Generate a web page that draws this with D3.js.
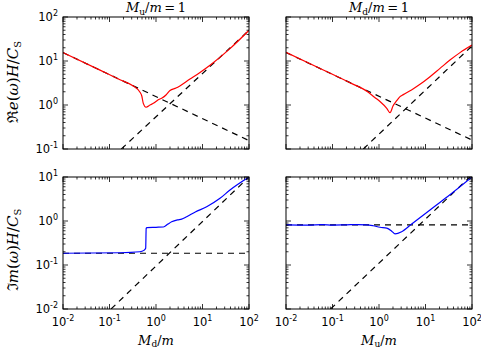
<!DOCTYPE html>
<html>
<head>
<meta charset="utf-8">
<script src="https://cdn.jsdelivr.net/npm/d3@7"></script>
<style>
  body { margin: 0; background: #fff; }
  text { fill: #000; }
</style>
</head>
<body>
<svg width="481" height="350"></svg>
<script>
// ---- datos ----
const xDomain = [0.01, 100];
const reDomain = [0.1, 100];
const imDomain = [0.01, 10];

// Re(w) con M_u/m = 1 (varia M_d)
const reMuX = [0.01, 0.0625, 0.168, 0.325, 0.453, 0.495, 0.533, 0.61, 0.743, 0.875, 1.10, 1.35, 1.64, 2.00, 2.69, 5.38, 8.83, 14.5, 39, 100];
const reMuY = [15.5, 6.2, 3.75, 2.70, 1.95, 1.6, 1.09, 0.89, 1.0, 1.09, 1.30, 1.44, 1.69, 2.14, 2.43, 3.90, 5.48, 7.98, 19.1, 49.9];
// Re(w) con M_d/m = 1 (varia M_u)
const reMdX = [0.01, 0.0634, 0.238, 0.589, 0.80, 1.05, 1.47, 1.73, 2.0, 2.4, 2.83, 3.33, 5.0, 7.62, 12.5, 20.5, 33.6, 55.2, 100];
const reMdY = [15.7, 6.24, 3.2, 1.95, 1.5, 1.2, 0.84, 0.67, 0.95, 1.25, 1.55, 1.72, 2.2, 2.95, 4.4, 6.8, 10.5, 15.5, 23];
// Im(w) con M_u/m = 1
const imMuX = [0.01, 0.168, 0.45, 0.55, 0.60, 0.615, 0.64, 1.0, 1.44, 1.8, 2.17, 2.9, 3.56, 4.57, 7.0, 12.3, 23.8, 39, 100];
const imMuY = [0.185, 0.19, 0.2, 0.215, 0.24, 0.68, 0.71, 0.72, 0.73, 0.85, 0.96, 1.06, 1.1, 1.25, 1.6, 2.11, 3.28, 5.07, 10];
// Im(w) con M_d/m = 1
const imMdX = [0.01, 0.03, 0.06, 0.1, 0.2, 0.35, 0.54, 0.75, 1.05, 1.47, 1.9, 2.21, 3.07, 5.05, 12.5, 30, 100];
const imMdY = [0.82, 0.81, 0.83, 0.81, 0.82, 0.83, 0.82, 0.78, 0.72, 0.69, 0.58, 0.51, 0.57, 0.855, 1.78, 3.6, 10];

// asintotas discontinuas (extremos)
const reMuDashDown = [[0.01, 15.5], [100, 0.155]];
const reMuDashUp = [[0.18, 0.1], [100, 50]];
const reMdDashDown = [[0.01, 15.6], [100, 0.16]];
const reMdDashUp = [[0.46, 0.1], [100, 22]];
const imMuDashFlat = [[0.01, 0.185], [100, 0.185]];
const imMuDashUp = [[0.108, 0.01], [100, 10]];
const imMdDashFlat = [[0.01, 0.82], [100, 0.82]];
const imMdDashUp = [[0.091, 0.01], [90, 10]];

const xTickExps = [-2, -1, 0, 1, 2];
const reTickExps = [-1, 0, 1, 2];
const imTickExps = [-2, -1, 0, 1];

// ---- dibujo ----
const svg = d3.select("svg");
const pw = 186, ph = 132;

const panels = [
  { left: 63, top: 17, yDomain: reDomain, yExps: reTickExps, xs: reMuX, ys: reMuY, color: "#ff0000",
    dashes: [reMuDashDown, reMuDashUp], yLabel: true, xLabel: false, title: "u" },
  { left: 286, top: 17, yDomain: reDomain, yExps: reTickExps, xs: reMdX, ys: reMdY, color: "#ff0000",
    dashes: [reMdDashDown, reMdDashUp], yLabel: false, xLabel: false, title: "d" },
  { left: 63, top: 177, yDomain: imDomain, yExps: imTickExps, xs: imMuX, ys: imMuY, color: "#0000ff",
    dashes: [imMuDashFlat, imMuDashUp], yLabel: true, xLabel: true, xName: "d" },
  { left: 286, top: 177, yDomain: imDomain, yExps: imTickExps, xs: imMdX, ys: imMdY, color: "#0000ff",
    dashes: [imMdDashFlat, imMdDashUp], yLabel: false, xLabel: true, xName: "u" }
];

function powLabel(sel, e) {
  sel.text("10");
  sel.append("tspan").attr("dy", -5).attr("font-size", 8).text(e);
}

panels.forEach(function(p, i) {
  const x = d3.scaleLog().domain(xDomain).range([p.left, p.left + pw]);
  const y = d3.scaleLog().domain(p.yDomain).range([p.top + ph, p.top]);

  svg.append("clipPath").attr("id", "clip" + i)
    .append("rect").attr("x", p.left).attr("y", p.top).attr("width", pw).attr("height", ph);

  const g = svg.append("g").attr("clip-path", "url(#clip" + i + ")");
  const line = d3.line().x(d => x(d[0])).y(d => y(d[1]));

  p.dashes.forEach(function(d) {
    g.append("path")
      .attr("d", line(d))
      .attr("fill", "none")
      .attr("stroke", "#000")
      .attr("stroke-width", 1.2)
      .attr("stroke-dasharray", "6,5");
  });

  const pts = p.xs.map((v, k) => [v, p.ys[k]]);
  g.append("path")
    .attr("d", d3.line().x(d => x(d[0])).y(d => y(d[1])).curve(d3.curveMonotoneX)(pts))
    .attr("fill", "none")
    .attr("stroke", p.color)
    .attr("stroke-width", 1.2);

  // marcas (hacia dentro, en los cuatro lados)
  const ticks = svg.append("g").attr("stroke", "#000").attr("stroke-width", 0.8);
  x.ticks().forEach(function(t) {
    const major = Math.abs(Math.log10(t) - Math.round(Math.log10(t))) < 1e-9;
    const len = major ? 5 : 2.5;
    const px = x(t);
    ticks.append("line").attr("x1", px).attr("x2", px).attr("y1", p.top + ph).attr("y2", p.top + ph - len);
    ticks.append("line").attr("x1", px).attr("x2", px).attr("y1", p.top).attr("y2", p.top + len);
  });
  y.ticks().forEach(function(t) {
    const major = Math.abs(Math.log10(t) - Math.round(Math.log10(t))) < 1e-9;
    const len = major ? 5 : 2.5;
    const py = y(t);
    ticks.append("line").attr("y1", py).attr("y2", py).attr("x1", p.left).attr("x2", p.left + len);
    ticks.append("line").attr("y1", py).attr("y2", py).attr("x1", p.left + pw).attr("x2", p.left + pw - len);
  });

  svg.append("rect")
    .attr("x", p.left).attr("y", p.top).attr("width", pw).attr("height", ph)
    .attr("fill", "none").attr("stroke", "#000").attr("stroke-width", 1);

  const lab = svg.append("g").attr("font-family", "DejaVu Sans").attr("font-size", 11.5);
  if (p.yLabel) {
    p.yExps.forEach(function(e) {
      lab.append("text")
        .attr("x", p.left - 5)
        .attr("y", y(Math.pow(10, e)) + 4)
        .attr("text-anchor", "end")
        .call(powLabel, e);
    });
  }
  if (p.xLabel) {
    xTickExps.forEach(function(e) {
      lab.append("text")
        .attr("x", x(Math.pow(10, e)))
        .attr("y", p.top + ph + 17)
        .attr("text-anchor", "middle")
        .call(powLabel, e);
    });
  }

  const serif = "DejaVu Serif";
  if (p.title) {
    const t = svg.append("text")
      .attr("x", p.left + pw / 2).attr("y", 12)
      .attr("text-anchor", "middle")
      .attr("font-family", serif).attr("font-size", 13);
    t.append("tspan").attr("font-style", "italic").text("M");
    t.append("tspan").attr("font-size", 9).attr("dy", 3).text(p.title);
    t.append("tspan").attr("dy", -3).text("/");
    t.append("tspan").attr("font-style", "italic").text("m");
    t.append("tspan").text("\u2009=\u20091");
  }
  if (p.xLabel) {
    const t = svg.append("text")
      .attr("x", p.left + pw / 2).attr("y", 345)
      .attr("text-anchor", "middle")
      .attr("font-family", serif).attr("font-size", 13);
    t.append("tspan").attr("font-style", "italic").text("M");
    t.append("tspan").attr("font-size", 9).attr("dy", 2).text(p.xName);
    t.append("tspan").attr("dy", -2).text("/");
    t.append("tspan").attr("font-style", "italic").text("m");
  }
  if (p.yLabel) {
    const re = i === 0;
    const t = svg.append("text")
      .attr("transform", "translate(18," + (re ? 82 : 250) + ") rotate(-90)")
      .attr("text-anchor", "middle")
      .attr("font-family", serif).attr("font-size", 15);
    t.append("tspan").text(re ? "\u211C" : "\u2111");
    t.append("tspan").attr("font-style", "italic").text(re ? "e" : "m");
    t.append("tspan").text("(");
    t.append("tspan").attr("font-style", "italic").text("\u03C9");
    t.append("tspan").text(")");
    t.append("tspan").attr("font-style", "italic").text("H");
    t.append("tspan").text("/");
    t.append("tspan").attr("font-style", "italic").text("C");
    t.append("tspan").attr("font-size", 10).attr("dy", 3).text("S");
  }
});
</script>
</body>
</html>
